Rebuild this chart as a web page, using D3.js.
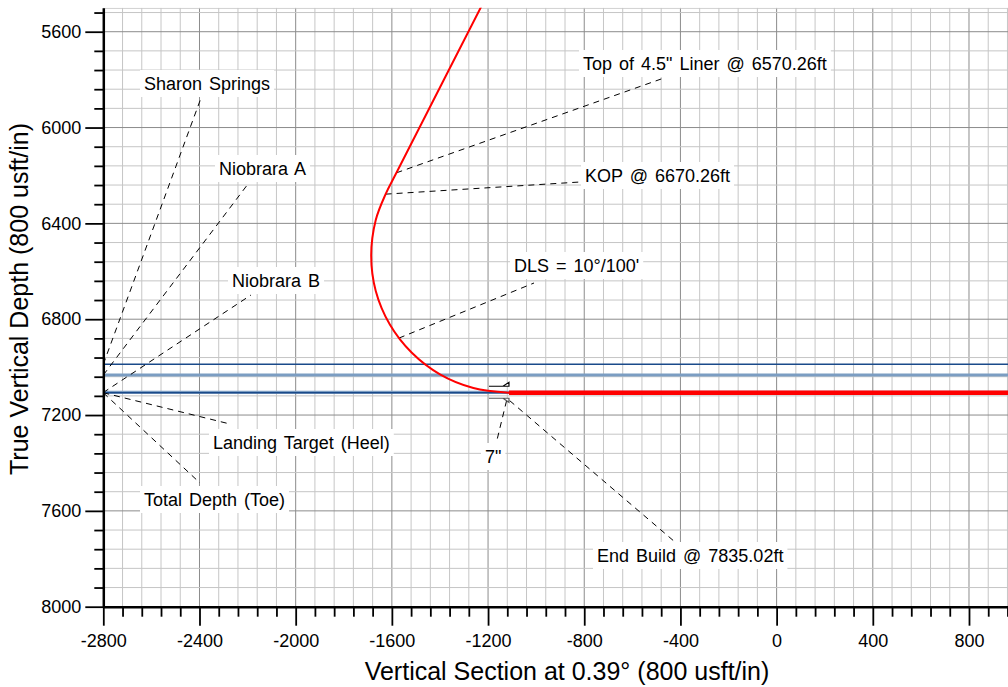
<!DOCTYPE html>
<html>
<head>
<meta charset="utf-8">
<script src="https://cdn.jsdelivr.net/npm/d3@7"></script>
<style>
  body { margin: 0; background: #fff; }
  text { font-family: "Liberation Sans", Arial, sans-serif; }
</style>
</head>
<body>
<div id="chart"></div>
<script>
// axis ticks
const xMajorTicks = [-2800, -2400, -2000, -1600, -1200, -800, -400, 0, 400, 800];
const yMajorTicks = [5600, 6000, 6400, 6800, 7200, 7600, 8000];

// well path: vertical section (usft) and TVD (usft)
const wellVS = [-1180, -1581, -1626, -1667, -1686, -1667, -1609, -1518, -1400, -1261, -1113];
const wellTVD = [5400, 6189, 6278, 6386, 6534, 6682, 6821, 6939, 7030, 7087, 7107];

// lateral
const lateralVS = [-1113, 1000];
const lateralTVD = [7107, 7107];

// formation tops
const formationNames = ["Sharon Springs", "Niobrara A", "Niobrara B", "Landing Target (Heel)"];
const formationTVD = [6988, 7033, 7105, 7107];

// annotations and where their leader lines point (VS, TVD)
const noteText = [
  "Sharon Springs", "Niobrara A", "Niobrara B", "Landing Target (Heel)", "Total Depth (Toe)",
  "Top of 4.5\" Liner @ 6570.26ft", "KOP @ 6670.26ft", "DLS = 10°/100'", "7\"", "End Build @ 7835.02ft"
];
const noteVS = [-2800, -2800, -2800, -2800, -2800, -1581, -1626, -1571, -1123, -1110];
const noteTVD = [6988, 7033, 7106, 7107, 7107, 6189, 6278, 6879, 7140, 7140];

// casing point
const casingVS = -1113;
const casingTVD = 7107;

// label layout (text left x, baseline y, leader end x, leader end y) in px
const labelLayout = [
  [144, 90, 201, 98],
  [219, 175, 248, 184],
  [232, 287, 251, 295],
  [213, 449, 230, 424],
  [144, 506, 200, 483],
  [583, 70, 664, 78],
  [585, 182, 580, 182],
  [514, 272, 534, 283],
  [485, 463, 497, 440],
  [597, 562, 675, 542]
];

const W = 1008, H = 687;
const x = d3.scaleLinear().domain([-2800, 1000]).range([103.3, 103.3 + 3800 * 0.24047]);
const y = d3.scaleLinear().domain([5500, 8000]).range([606.7 - 2500 * 0.23958, 606.7]);
const plotL = x(-2800), plotT = y(5500), plotB = y(8000), plotR = W;

const svg = d3.select("#chart").append("svg")
  .attr("width", W).attr("height", H);

svg.append("clipPath").attr("id", "plot")
  .append("rect")
  .attr("x", plotL).attr("y", plotT)
  .attr("width", plotR - plotL).attr("height", plotB - plotT);

const plot = svg.append("g").attr("clip-path", "url(#plot)");

// grid
const xGrid = d3.range(-2800, 1001, 80);
const yGrid = d3.range(8000, 5499, -80);
plot.append("g").selectAll("line").data(xGrid).join("line")
  .attr("x1", d => x(d)).attr("x2", d => x(d))
  .attr("y1", plotT).attr("y2", plotB)
  .attr("stroke", d => d % 400 === 0 ? "#8c8c8c" : "#c6c6c6")
  .attr("stroke-width", 1);
plot.append("g").selectAll("line").data(yGrid).join("line")
  .attr("x1", plotL).attr("x2", plotR)
  .attr("y1", d => y(d)).attr("y2", d => y(d))
  .attr("stroke", d => d % 400 === 0 ? "#8c8c8c" : "#c6c6c6")
  .attr("stroke-width", 1);
plot.append("line")
  .attr("x1", plotL).attr("x2", plotR)
  .attr("y1", plotT + 0.5).attr("y2", plotT + 0.5)
  .attr("stroke", "#c6c6c6");

// formation lines
const formColor = ["#1a4a8a", "#7b9dc2", "#7b9dc2", "#1a4a8a"];
const formWidth = [1.3, 3, 3, 1.3];
plot.append("g").selectAll("line").data(formationTVD).join("line")
  .attr("x1", plotL).attr("x2", plotR)
  .attr("y1", d => y(d)).attr("y2", d => y(d))
  .attr("stroke", (d, i) => formColor[i])
  .attr("stroke-width", (d, i) => formWidth[i]);

// leader lines
plot.append("g").selectAll("line").data(noteText).join("line")
  .attr("x1", (d, i) => x(noteVS[i])).attr("y1", (d, i) => y(noteTVD[i]))
  .attr("x2", (d, i) => labelLayout[i][2]).attr("y2", (d, i) => labelLayout[i][3])
  .attr("stroke", "#000").attr("stroke-width", 1)
  .attr("stroke-dasharray", "6,5");

// labels with white background
const labels = plot.append("g").selectAll("g").data(noteText).join("g");
labels.append("rect").attr("fill", "#fff");
labels.append("text")
  .attr("x", (d, i) => labelLayout[i][0])
  .attr("y", (d, i) => labelLayout[i][1])
  .style("font-size", "18px")
  .style("word-spacing", "2px")
  .attr("fill", "#000")
  .text(d => d);
labels.each(function () {
  const g = d3.select(this);
  const t = g.select("text");
  const bx = +t.attr("x"), by = +t.attr("y");
  const w = t.node().getComputedTextLength();
  g.select("rect")
    .attr("x", bx - 4).attr("y", by - 20)
    .attr("width", w + 8).attr("height", 27);
});

// well path
plot.append("path")
  .datum(wellVS.map((v, i) => [v, wellTVD[i]]))
  .attr("fill", "none")
  .attr("stroke", "#ff0000")
  .attr("stroke-width", 2)
  .attr("d", d3.line().x(d => x(d[0])).y(d => y(d[1])).curve(d3.curveCatmullRom.alpha(0.5)));

plot.append("path")
  .datum(lateralVS.map((v, i) => [v, lateralTVD[i]]))
  .attr("fill", "none")
  .attr("stroke", "#ff0000")
  .attr("stroke-width", 4.5)
  .attr("d", d3.line().x(d => x(d[0])).y(d => y(d[1])));

// casing shoe symbol
const cx = x(casingVS), cy = y(casingTVD);
const shoe = plot.append("g").attr("fill", "#fff").attr("stroke-width", 1.2);
shoe.append("path").attr("stroke", "#000")
  .attr("d", `M${cx - 20},${cy - 6.5}H${cx - 6}L${cx},${cy - 10.5}V${cy - 6.5}H${cx - 6}`);
shoe.append("path").attr("stroke", "#555")
  .attr("d", `M${cx - 20},${cy + 5.5}H${cx - 6}L${cx},${cy + 9.5}V${cy + 5.5}H${cx - 6}`);

// axes
const fmt = d => String(d);
svg.append("g").attr("transform", `translate(${plotL},0)`)
  .call(d3.axisLeft(y).tickValues(yMajorTicks).tickFormat(fmt).tickSize(18).tickSizeOuter(0).tickPadding(4));
svg.append("g").attr("transform", `translate(${plotL},0)`)
  .call(d3.axisLeft(y).tickValues(yGrid.filter(d => d % 400 !== 0)).tickSize(9).tickSizeOuter(0).tickFormat(""))
  .call(g => g.select(".domain").remove());
svg.append("g").attr("transform", `translate(0,${plotB})`)
  .call(d3.axisBottom(x).tickValues(xMajorTicks).tickFormat(fmt).tickSize(19).tickSizeOuter(0).tickPadding(9));
svg.append("g").attr("transform", `translate(0,${plotB})`)
  .call(d3.axisBottom(x).tickValues(xGrid.filter(d => d % 400 !== 0)).tickSize(10).tickSizeOuter(0).tickFormat(""))
  .call(g => g.select(".domain").remove());

svg.selectAll(".domain").attr("stroke", "#000").attr("stroke-width", 2.5);
svg.selectAll(".tick line").attr("stroke", "#000").attr("stroke-width", 1.8);
svg.selectAll(".tick text")
  .style("font-size", "18px")
  .style("font-family", "'Liberation Sans', Arial, sans-serif")
  .attr("fill", "#000");

// axis titles
svg.append("text")
  .attr("x", 567).attr("y", 680)
  .attr("text-anchor", "middle")
  .style("font-size", "25px")
  .text("Vertical Section at 0.39° (800 usft/in)");
svg.append("text")
  .attr("transform", "translate(28,299) rotate(-90)")
  .attr("text-anchor", "middle")
  .style("font-size", "25px")
  .text("True Vertical Depth (800 usft/in)");
</script>
</body>
</html>
